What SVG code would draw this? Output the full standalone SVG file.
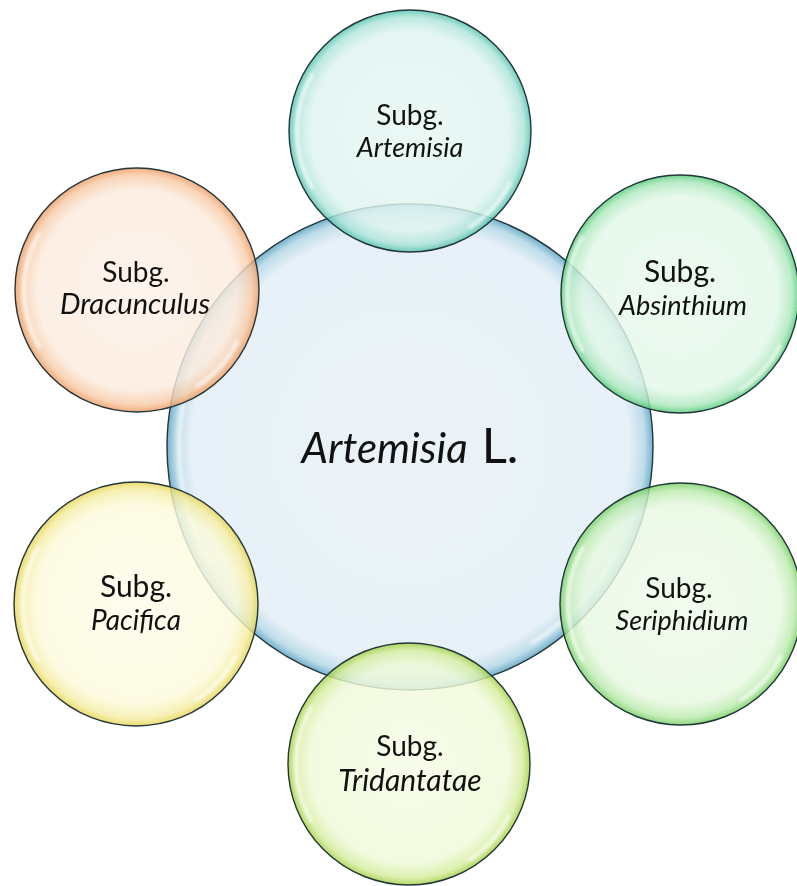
<svg xmlns="http://www.w3.org/2000/svg" xmlns:xlink="http://www.w3.org/1999/xlink" width="797" height="886" viewBox="0 0 797 886">
<style>
  .lbl{font-family:"Lato","Carlito","Liberation Sans",sans-serif;fill:#111111;text-anchor:middle}
  .it{font-style:italic}
  .edge{stroke:#22363b;stroke-width:1.4}
  .hl{fill:none;stroke:#ffffff;stroke-width:4;stroke-linecap:round;opacity:0.6}
</style>
<defs>
  <filter id="soft" x="-20%" y="-20%" width="140%" height="140%"><feGaussianBlur stdDeviation="1.6"/></filter>
  <radialGradient id="gBlue"><stop offset="0" stop-color="#e9f2f7"/><stop offset="0.9" stop-color="#e4eff6"/><stop offset="0.965" stop-color="#b8d9e8"/><stop offset="1" stop-color="#64a9c5"/></radialGradient>
  <radialGradient id="gTeal"><stop offset="0" stop-color="#e6f7f4"/><stop offset="0.82" stop-color="#dff4ef"/><stop offset="0.94" stop-color="#ade4d9"/><stop offset="1" stop-color="#52c2ae"/></radialGradient>
  <radialGradient id="gGreen"><stop offset="0" stop-color="#ebfaef"/><stop offset="0.82" stop-color="#e2f7e8"/><stop offset="0.94" stop-color="#ade8bd"/><stop offset="1" stop-color="#55cb78"/></radialGradient>
  <radialGradient id="gLime"><stop offset="0" stop-color="#f0fbeb"/><stop offset="0.82" stop-color="#e8f8e1"/><stop offset="0.94" stop-color="#bbeaad"/><stop offset="1" stop-color="#74cf61"/></radialGradient>
  <radialGradient id="gYG"><stop offset="0" stop-color="#f6fce6"/><stop offset="0.82" stop-color="#eff9d8"/><stop offset="0.94" stop-color="#d5ed9e"/><stop offset="1" stop-color="#a2cf40"/></radialGradient>
  <radialGradient id="gYel"><stop offset="0" stop-color="#fefdec"/><stop offset="0.82" stop-color="#fcfadb"/><stop offset="0.94" stop-color="#f5eda3"/><stop offset="1" stop-color="#e6d552"/></radialGradient>
  <radialGradient id="gOr"><stop offset="0" stop-color="#fdf2ea"/><stop offset="0.82" stop-color="#fcebdd"/><stop offset="0.94" stop-color="#f7cba7"/><stop offset="1" stop-color="#ee9a60"/></radialGradient>
  <g id="hlS" filter="url(#soft)">
    <path class="hl" d="M -97.9,-56.5 A 113 113 0 0 0 -97.9,56.5"/>
    <path class="hl" d="M 100,52 A 113 113 0 0 1 60,96"/>
  </g>
  <g id="hlB" filter="url(#soft)">
    <path class="hl" d="M -200,-115.5 A 231 231 0 0 0 -200,115.5"/>
    <path class="hl" d="M 205,106 A 231 231 0 0 1 122,196"/>
  </g>
</defs>
<rect width="797" height="886" fill="#ffffff"/>
<g id="connectors"/>

<g id="center" transform="translate(410,447)">
  <circle r="243" fill="url(#gBlue)" fill-opacity="0.9" class="edge"/>
  <use xlink:href="#hlB"/>
</g>

<g id="n-artemisia" transform="translate(410,131)">
  <circle r="121" fill="url(#gTeal)" fill-opacity="0.82" class="edge"/>
  <use xlink:href="#hlS"/>
</g>
<g id="n-absinthium" transform="translate(680,294)">
  <circle r="119" fill="url(#gGreen)" fill-opacity="0.82" class="edge"/>
  <use xlink:href="#hlS"/>
</g>
<g id="n-seriphidium" transform="translate(681,604)">
  <circle r="121" fill="url(#gLime)" fill-opacity="0.82" class="edge"/>
  <use xlink:href="#hlS"/>
</g>
<g id="n-tridantatae" transform="translate(409,764)">
  <circle r="121" fill="url(#gYG)" fill-opacity="0.82" class="edge"/>
  <use xlink:href="#hlS"/>
</g>
<g id="n-pacifica" transform="translate(136,604)">
  <circle r="122" fill="url(#gYel)" fill-opacity="0.82" class="edge"/>
  <use xlink:href="#hlS"/>
</g>
<g id="n-dracunculus" transform="translate(137,290)">
  <circle r="122" fill="url(#gOr)" fill-opacity="0.82" class="edge"/>
  <use xlink:href="#hlS"/>
</g>

<g id="labels">
  <text class="lbl" x="410" y="463" font-size="42"><tspan class="it">Artemisia</tspan><tspan font-size="49" dx="14">L.</tspan></text>

  <text class="lbl" x="410" y="125" font-size="28">Subg.</text>
  <text class="lbl it" x="410" y="157" font-size="27">Artemisia</text>

  <text class="lbl" x="680" y="282" font-size="30">Subg.</text>
  <text class="lbl it" x="683" y="315" font-size="27">Absinthium</text>

  <text class="lbl" x="679" y="598" font-size="28">Subg.</text>
  <text class="lbl it" x="682" y="630" font-size="27">Seriphidium</text>

  <text class="lbl" x="410" y="756" font-size="28">Subg.</text>
  <text class="lbl it" x="410" y="791" font-size="30">Tridantatae</text>

  <text class="lbl" x="136" y="597" font-size="30">Subg.</text>
  <text class="lbl it" x="136" y="630" font-size="28">Pacifica</text>

  <text class="lbl" x="136" y="282" font-size="28">Subg.</text>
  <text class="lbl it" x="135" y="314" font-size="29">Dracunculus</text>
</g>
</svg>
